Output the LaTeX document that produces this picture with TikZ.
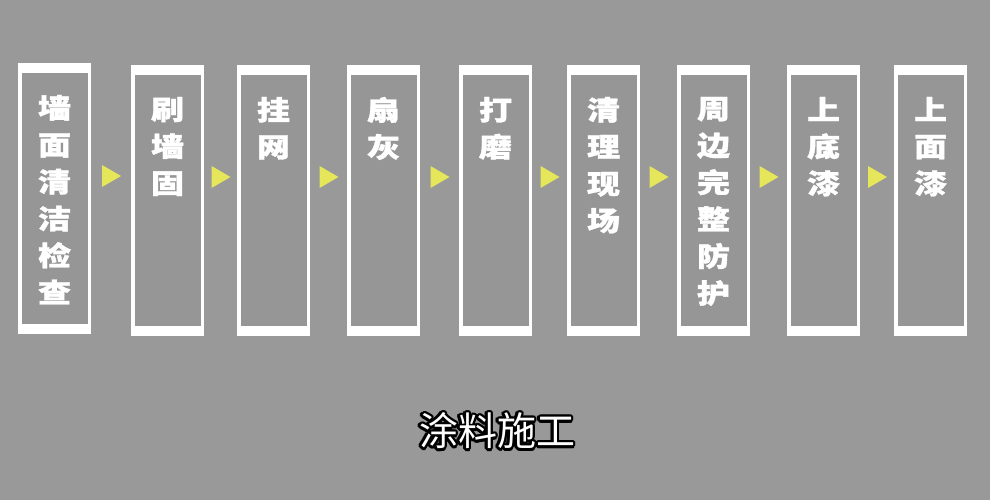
\documentclass[tikz,border=0pt]{standalone}
\usepackage{fontspec}
\usetikzlibrary{calc}
\newfontfamily\cjkheavy{Noto Sans CJK SC Black}[FakeBold=1.2]
\newfontfamily\cjkreg{Noto Sans CJK SC}
\definecolor{bgc}{HTML}{999999}
\definecolor{innerc}{HTML}{969696}
\definecolor{arrowc}{HTML}{E6E65A}
\tikzset{
  stepbox/.style={rectangle, fill=white, inner sep=0pt, minimum width=73pt, minimum height=271pt,
    path picture={\fill[innerc] ([xshift=3.5pt,yshift=-10pt]path picture bounding box.north west)
      rectangle ([xshift=-3.5pt,yshift=10pt]path picture bounding box.south east);}},
  steplbl/.style={anchor=north, inner sep=0pt, align=center, text=white, yscale=0.82,
    font=\cjkheavy\fontsize{33}{45}\selectfont},
  arrowtri/.style={fill=arrowc},
  titleout/.style={text=black, inner sep=0pt, font=\cjkreg\fontsize{39}{40}\selectfont},
  titlein/.style={text=white, inner sep=0pt, font=\cjkreg\fontsize{39}{40}\selectfont}
}
\begin{document}
\begin{tikzpicture}[x=1pt,y=-1pt]
\fill[bgc] (0,0) rectangle (990,500);
\useasboundingbox (0,0) rectangle (990,500);
% boxes
\node[stepbox] (b1) at (54.5,198.5) {};
\node[stepbox] (b2) at (167.5,200.5) {};
\node[stepbox] (b3) at (273.5,200.5) {};
\node[stepbox] (b4) at (383.5,200.5) {};
\node[stepbox] (b5) at (495.5,200.5) {};
\node[stepbox] (b6) at (603.5,200.5) {};
\node[stepbox] (b7) at (713.5,200.5) {};
\node[stepbox] (b8) at (823.5,200.5) {};
\node[stepbox] (b9) at (930.5,200.5) {};
% labels
\node[steplbl] (t1) at ([yshift=-32pt]b1.north) {墙\\面\\清\\洁\\检\\查};
\node[steplbl] (t2) at ([yshift=-32pt]b2.north) {刷\\墙\\固};
\node[steplbl] (t3) at ([yshift=-32pt]b3.north) {挂\\网};
\node[steplbl] (t4) at ([yshift=-32pt]b4.north) {扇\\灰};
\node[steplbl] (t5) at ([yshift=-32pt]b5.north) {打\\磨};
\node[steplbl] (t6) at ([yshift=-32pt]b6.north) {清\\理\\现\\场};
\node[steplbl] (t7) at ([yshift=-32pt]b7.north) {周\\边\\完\\整\\防\\护};
\node[steplbl] (t8) at ([yshift=-32pt]b8.north) {上\\底\\漆};
\node[steplbl] (t9) at ([yshift=-32pt]b9.north) {上\\面\\漆};
% arrows
\foreach \a/\b [count=\i] in {b1/b2,b2/b3,b3/b4,b4/b5,b5/b6,b6/b7,b7/b8,b8/b9}{
  \coordinate (a\i) at ($(\a.east)!0.5!(\b.west)$);
  \fill[arrowtri] ([xshift=-9pt,yshift=34.5pt]a\i) -- ([xshift=10pt,yshift=23.5pt]a\i) -- ([xshift=-9pt,yshift=12.5pt]a\i) -- cycle;
}
% title with outline
\coordinate (tc) at (497,431);
\foreach \ang [count=\k] in {0,22.5,...,337.5}{
  \node[titleout] (o\k) at ([shift={(\ang:2.6pt)}]tc) {涂料施工};
}
\node[titlein] (title) at (tc) {涂料施工};
\end{tikzpicture}
\end{document}
